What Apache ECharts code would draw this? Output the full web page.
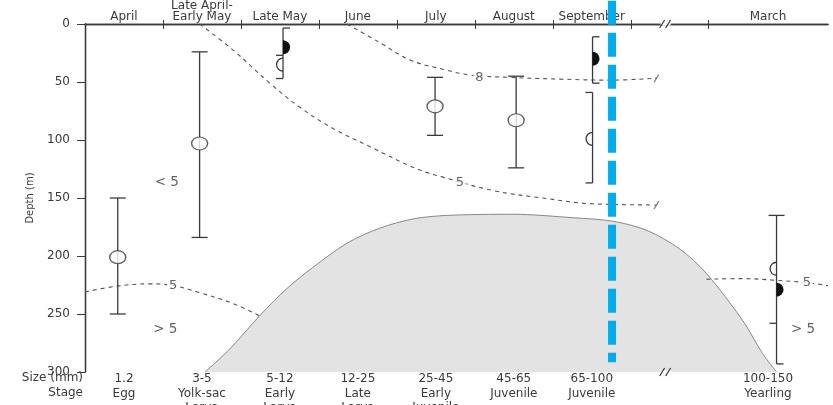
<!DOCTYPE html>
<html>
<head>
<meta charset="utf-8">
<script src="https://cdn.jsdelivr.net/npm/echarts@6/dist/echarts.min.js"></script>
<style>
html, body { margin: 0; padding: 0; background: #fff; }
#chart { width: 833px; height: 405px; }
</style>
</head>
<body>
<div id="chart"></div>
<script>
// x is in "column" units: one month column = 1, March column is wider
const monthTicks = [1, 2, 3, 4, 5, 6, 7, 8];
const monthCenters = [0.5, 1.5, 2.5, 3.5, 4.5, 5.5, 6.5, 8.76];
const monthLabels = ['April', 'Late April-\nEarly May', 'Late May', 'June', 'July', 'August', 'September', 'March'];
const sizeLabels = ['1.2', '3-5', '5-12', '12-25', '25-45', '45-65', '65-100', '100-150'];
const stageLabels = ['Egg', 'Yolk-sac\nLarva', 'Early\nLarva', 'Late\nLarva', 'Early\nJuvenile', 'Juvenile', 'Juvenile', 'Yearling'];

// depth ranges: [x, top, bottom]
const stems = [
    [0.42, 150, 250],
    [1.47, 24, 184],
    [2.54, 3.5, 47],
    [4.49, 46, 96],
    [5.53, 45, 124],
    [6.51, 11, 51],
    [6.51, 59, 137],
    [8.87, 165, 293]
];
// end caps: [x, depth, side]  0 = both sides, 1 = right, -1 = left
const caps = [
    [0.42, 150, 0], [0.42, 250, 0],
    [1.47, 24, 0], [1.47, 184, 0],
    [2.54, 3.5, 1], [2.54, 27, -1], [2.54, 47, -1],
    [4.49, 46, 0], [4.49, 96, 0],
    [5.53, 45, 0], [5.53, 124, 0],
    [6.51, 11, 1], [6.51, 51, 1],
    [6.51, 59, -1], [6.51, 137, -1],
    [8.87, 165, 0], [8.87, 258, -1], [8.87, 293, 1]
];
const openCircles = [[0.42, 201], [1.47, 103], [4.49, 71], [5.53, 83]];
const openHalf = [[2.54, 35], [6.51, 99], [8.87, 211]];
const filledHalf = [[2.54, 20], [6.51, 30], [8.87, 229]];

// bottom profile (grey area)
const bottomProfile = [
    [1.54, 300], [1.86, 280], [2.24, 251.5], [2.59, 228], [2.92, 210], [3.36, 189],
    [3.78, 176], [4.21, 168], [4.64, 165], [5.49, 164], [6.26, 167], [6.77, 170],
    [7.21, 178], [7.63, 194], [7.97, 215], [8.44, 256], [8.69, 284], [8.87, 300]
];
// isolines
const iso8 = [[3.36, 0], [3.78, 16], [4.17, 31], [4.59, 39], [4.94, 44], [5.45, 46], [6.09, 47.5], [6.73, 48.4], [7.33, 46.7]];
const iso5Upper = [[1.47, 0], [1.90, 22.5], [2.37, 51], [2.76, 72], [3.18, 90], [3.62, 104.6], [4.26, 125], [4.59, 132], [5.23, 143.5], [5.87, 150], [6.51, 155], [7.33, 156]];
const iso5LowLeft = [[0, 231], [0.41, 226], [0.83, 224], [1.13, 225.5], [1.47, 231.6], [1.90, 241], [2.24, 251.5]];
const iso5LowRight = [[7.97, 220], [8.44, 219.5], [8.87, 221], [9.26, 223], [9.53, 225.6]];
const isoEnds = [[7.33, 46.7], [7.33, 156]];
const lineLabels = [[5.06, 46, '8'], [4.81, 137, '5'], [1.13, 225.5, '5'], [9.26, 223, '5']];
const zoneLabels = [[1.05, 137, '< 5'], [1.03, 263.5, '> 5'], [9.21, 263.5, '> 5']];

const breakAt = 7.46;
const highlightX = 6.76;

const chart = echarts.init(document.getElementById('chart'));
const ink = '#3a3a3a';
const font = 'DejaVu Sans';

function nearestIdx(arr, v) {
    let best = 0;
    arr.forEach((a, i) => { if (Math.abs(a - v) < Math.abs(arr[best] - v)) best = i; });
    return best;
}

const isoStyle = { color: '#555', width: 1.1, type: [4, 4] };

const option = {
    backgroundColor: '#fff',
    animation: false,
    textStyle: { fontFamily: font, color: ink },
    grid: { left: 85, right: 5, top: 24, bottom: 33, containLabel: false, outerBoundsMode: 'none' },
    xAxis: [
        {
            type: 'value', position: 'top', min: 0, max: 9.53,
            splitLine: { show: false },
            axisLine: { show: true, lineStyle: { color: ink, width: 1.3 } },
            axisTick: { show: true, customValues: monthTicks, length: 4, lineStyle: { color: ink } },
            axisLabel: {
                customValues: monthCenters, margin: 2, color: ink,
                formatter: v => monthLabels[nearestIdx(monthCenters, v)].split('\n').map(s => '{m|' + s + '}').join('\n'),
                rich: { m: { fontSize: 12, lineHeight: 11, fontFamily: font, color: ink } }
            }
        },
        {
            type: 'value', position: 'bottom', min: 0, max: 9.53,
            splitLine: { show: false },
            axisLine: { show: true, lineStyle: { color: ink, width: 1.3 } },
            axisTick: { show: true, customValues: monthTicks, length: 5, lineStyle: { color: ink } },
            axisLabel: {
                customValues: monthCenters, margin: 0, fontSize: 12, lineHeight: 14.5, color: ink,
                formatter: v => {
                    const i = nearestIdx(monthCenters, v);
                    return sizeLabels[i] + '\n' + stageLabels[i];
                }
            }
        }
    ],
    yAxis: [
        {
            type: 'value', inverse: true, min: 0, max: 300, interval: 50,
            name: 'Depth (m)', nameLocation: 'middle', nameGap: 50, nameRotate: 90,
            nameTextStyle: { fontSize: 10, color: ink },
            splitLine: { show: false },
            axisLine: { show: true, lineStyle: { color: ink, width: 1.3 } },
            axisTick: { show: true, length: 8, lineStyle: { color: ink } },
            axisLabel: { margin: 15, fontSize: 12, color: ink }
        },
        {
            type: 'value', inverse: true, min: 0, max: 300, position: 'right',
            splitLine: { show: false },
            axisLine: { show: true, lineStyle: { color: ink, width: 1.3 } },
            axisTick: { show: false },
            axisLabel: { show: false }
        }
    ],
    graphic: [
        {
            type: 'text', x: 83, y: 371,
            style: { text: 'Size (mm)\nStage', align: 'right', verticalAlign: 'top', fontFamily: font, fontSize: 12, lineHeight: 14.5, fill: ink }
        }
    ],
    series: [
        {
            name: 'bottom', type: 'line', data: bottomProfile, smooth: 0.3, symbol: 'none', z: 1,
            lineStyle: { color: '#888', width: 1 },
            areaStyle: { color: '#e3e3e3', origin: 'end', opacity: 1 }
        },
        { type: 'line', data: iso8, smooth: 0.4, symbol: 'none', lineStyle: isoStyle, z: 2 },
        { type: 'line', data: iso5Upper, smooth: 0.4, symbol: 'none', lineStyle: isoStyle, z: 2 },
        { type: 'line', data: iso5LowLeft, smooth: 0.4, symbol: 'none', lineStyle: isoStyle, z: 2 },
        { type: 'line', data: iso5LowRight, smooth: 0.4, symbol: 'none', lineStyle: isoStyle, z: 2 },
        {
            type: 'scatter', data: isoEnds, z: 3,
            symbol: 'path://M0,10L7,0L9,0L2,10Z', symbolSize: [6, 8],
            itemStyle: { color: '#555' }
        },
        {
            type: 'custom', z: 4, data: stems,
            renderItem: (params, api) => {
                const a = api.coord([api.value(0), api.value(1)]);
                const b = api.coord([api.value(0), api.value(2)]);
                return { type: 'line', shape: { x1: a[0], y1: a[1], x2: b[0], y2: b[1] }, style: { stroke: ink, lineWidth: 1.3 } };
            }
        },
        {
            type: 'custom', z: 4, data: caps,
            renderItem: (params, api) => {
                const p = api.coord([api.value(0), api.value(1)]);
                const side = api.value(2);
                const x1 = side === 1 ? p[0] : p[0] - (side === 0 ? 8 : 7);
                const x2 = side === -1 ? p[0] : p[0] + (side === 0 ? 8 : 7);
                return { type: 'line', shape: { x1: x1, y1: p[1], x2: x2, y2: p[1] }, style: { stroke: ink, lineWidth: 1.3 } };
            }
        },
        {
            type: 'scatter', data: openCircles, z: 5,
            symbol: 'circle', symbolSize: [16, 13],
            itemStyle: { color: '#fff', borderColor: ink, borderWidth: 1.3 }
        },
        {
            type: 'custom', z: 5, data: openHalf,
            renderItem: (params, api) => {
                const p = api.coord([api.value(0), api.value(1)]);
                return {
                    type: 'arc',
                    shape: { cx: p[0], cy: p[1], r: 6.5, startAngle: Math.PI / 2, endAngle: Math.PI * 1.5, clockwise: true },
                    style: { stroke: ink, lineWidth: 1.3, fill: null }
                };
            }
        },
        {
            type: 'custom', z: 5, data: filledHalf,
            renderItem: (params, api) => {
                const p = api.coord([api.value(0), api.value(1)]);
                return {
                    type: 'sector',
                    shape: { cx: p[0], cy: p[1], r0: 0, r: 7, startAngle: -Math.PI / 2, endAngle: Math.PI / 2, clockwise: true },
                    style: { fill: '#111' }
                };
            }
        },
        {
            type: 'scatter', z: 6, symbolSize: 0,
            data: lineLabels.map(d => ({ value: [d[0], d[1]], name: d[2] })),
            label: {
                show: true, position: 'inside', formatter: '{b}', fontSize: 13, color: ink,
                backgroundColor: '#fff', padding: [0, 2]
            }
        },
        {
            type: 'scatter', z: 6, symbolSize: 0,
            data: zoneLabels.map(d => ({ value: [d[0], d[1]], name: d[2] })),
            label: { show: true, position: 'inside', formatter: '{b}', fontSize: 13.5, color: ink }
        },
        {
            // axis break marks on top and bottom axes
            type: 'custom', z: 7, data: [[breakAt, 0], [breakAt, 300]],
            renderItem: (params, api) => {
                const p = api.coord([api.value(0), api.value(1)]);
                return {
                    type: 'group',
                    children: [
                        { type: 'rect', shape: { x: p[0] - 6, y: p[1] - 1.5, width: 10, height: 3 }, style: { fill: '#fff' } },
                        { type: 'line', shape: { x1: p[0] - 7, y1: p[1] + 4, x2: p[0] - 2, y2: p[1] - 4 }, style: { stroke: ink, lineWidth: 1.3 } },
                        { type: 'line', shape: { x1: p[0] - 1, y1: p[1] + 4, x2: p[0] + 4, y2: p[1] - 4 }, style: { stroke: ink, lineWidth: 1.3 } }
                    ]
                };
            }
        },
        {
            // highlight marker
            type: 'line', z: 10, clip: false, symbol: 'none',
            data: [[highlightX, -20], [highlightX, 291.5]],
            lineStyle: { color: '#00AEEF', width: 8, type: [24, 8], cap: 'butt' }
        }
    ]
};

chart.setOption(option);
window.addEventListener('resize', () => {
    chart.resize();
});
</script>
</body>
</html>
